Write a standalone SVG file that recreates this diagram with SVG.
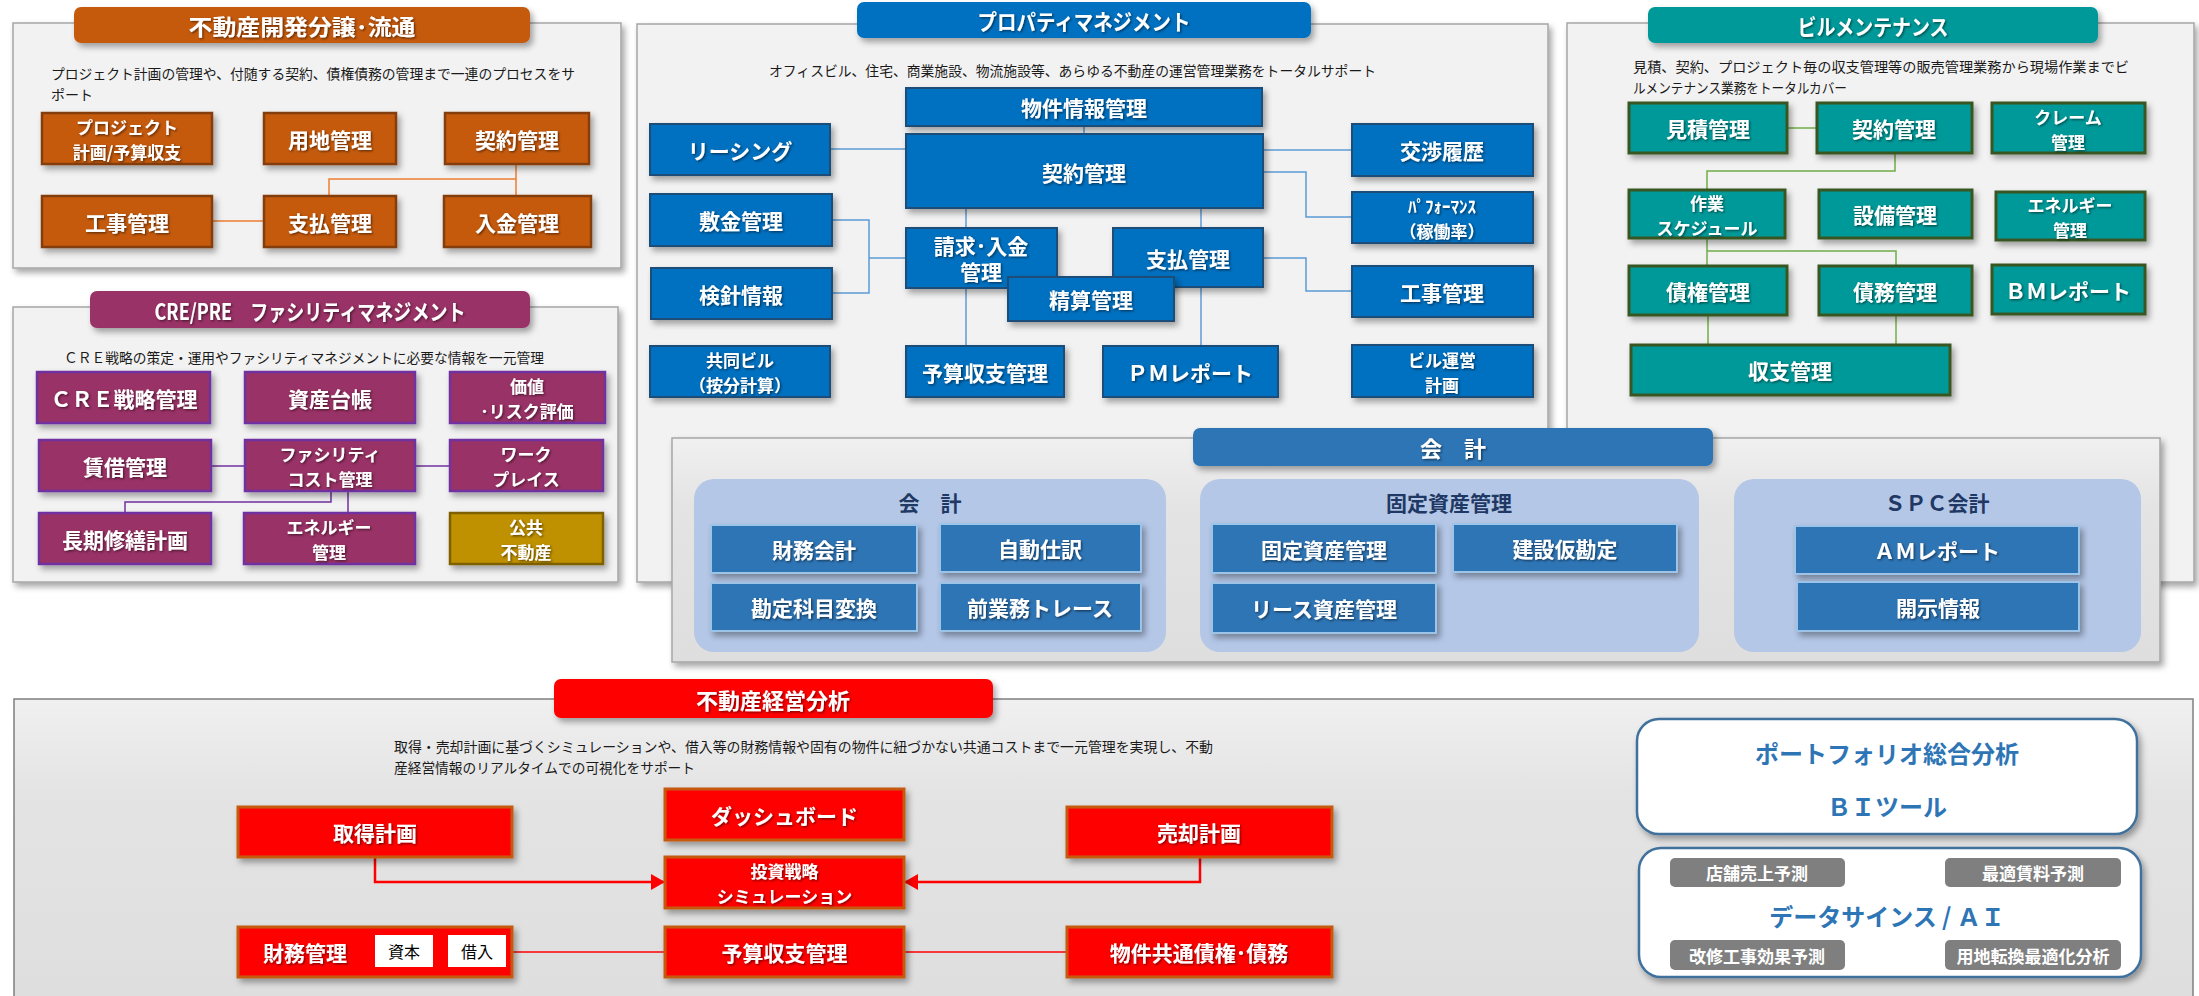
<svg xmlns="http://www.w3.org/2000/svg" width="2199" height="996" viewBox="0 0 2199 996">
<defs>
<filter id="sh" x="-10%" y="-10%" width="130%" height="150%"><feDropShadow dx="3" dy="4" stdDeviation="3" flood-color="#000" flood-opacity="0.35"/></filter>
<filter id="ts" x="-5%" y="-20%" width="115%" height="150%"><feDropShadow dx="1.2" dy="1.2" stdDeviation="0.8" flood-color="#000" flood-opacity="0.55"/></filter>
<linearGradient id="gbg" x1="0" y1="0" x2="0" y2="1"><stop offset="0" stop-color="#F0F0F0"/><stop offset="0.3" stop-color="#E4E4E4"/><stop offset="1" stop-color="#DEDEDE"/></linearGradient>
<marker id="arr" markerUnits="userSpaceOnUse" markerWidth="14" markerHeight="16" refX="14" refY="8" orient="auto"><path d="M0,0 L14,8 L0,16 z" fill="#FF0000"/></marker>
<style>
.panel{fill:#F2F2F2;stroke:#A6A6A6;stroke-width:1.5}
.nt{font-family:"Noto Sans CJK JP","Noto Sans",sans-serif;font-weight:700;fill:#fff;text-anchor:middle;dominant-baseline:central;font-size:21px}
.n2{font-size:17px}
.desc{font-family:"Noto Sans CJK JP","Noto Sans",sans-serif;font-size:14px;fill:#1a1a1a;dominant-baseline:central}
.tt{font-family:"Noto Sans CJK JP","Noto Sans",sans-serif;font-weight:700;fill:#fff;text-anchor:middle;dominant-baseline:central;font-size:22px}
.or{fill:#C55A11;stroke:#843C0C;stroke-width:2.5}
.pu{fill:#993366;stroke:#7030A0;stroke-width:2.5}
.go{fill:#BF9000;stroke:#7F6000;stroke-width:2.5}
.bl{fill:#0070C0;stroke:#1F4E79;stroke-width:2}
.te{fill:#009999;stroke:#375623;stroke-width:3}
.ac{fill:#2E75B6;stroke:#9DC3E6;stroke-width:2}
.rd{fill:#FF0000;stroke:#C55A11;stroke-width:3}
.sub{fill:#B4C7E7}
.subt{font-family:"Noto Sans CJK JP","Noto Sans",sans-serif;font-weight:700;fill:#1F3864;text-anchor:middle;dominant-baseline:central;font-size:21px}
.pill{fill:#7F7F7F}
.pt{font-family:"Noto Sans CJK JP","Noto Sans",sans-serif;font-weight:700;fill:#fff;text-anchor:middle;dominant-baseline:central;font-size:17px}
.bi{font-family:"Noto Sans CJK JP","Noto Sans",sans-serif;font-weight:700;fill:#2E75B6;text-anchor:middle;dominant-baseline:central;font-size:24px}
.wb{fill:#fff}
.wt{font-family:"Noto Sans CJK JP","Noto Sans",sans-serif;fill:#000;text-anchor:middle;dominant-baseline:central;font-size:16px}
</style>
</defs>

<!-- panels -->
<g id="panel-dev">
<rect class="panel" x="13" y="23" width="608" height="245" filter="url(#sh)"/>
<rect x="74" y="7" width="456" height="36" rx="7" fill="#C55A11" filter="url(#sh)"/>
<text class="tt" x="302" y="25" textLength="227" lengthAdjust="spacingAndGlyphs" filter="url(#ts)">不動産開発分譲･流通</text>
<text class="desc"><tspan x="51" y="73" textLength="524" lengthAdjust="spacingAndGlyphs">プロジェクト計画の管理や、付随する契約、債権債務の管理まで一連のプロセスをサ</tspan><tspan x="51" y="94">ポート</tspan></text>
</g>
<g id="panel-cre">
<rect class="panel" x="13" y="307" width="605" height="275" filter="url(#sh)"/>
<rect x="90" y="291" width="440" height="37" rx="7" fill="#993366" filter="url(#sh)"/>
<text class="tt" x="310" y="309.5" textLength="311" lengthAdjust="spacingAndGlyphs" filter="url(#ts)">CRE/PRE　ファシリティマネジメント</text>
<text class="desc" x="64" y="357" textLength="480" lengthAdjust="spacingAndGlyphs">ＣＲＥ戦略の策定・運用やファシリティマネジメントに必要な情報を一元管理</text>
</g>
<g id="panel-pm">
<rect class="panel" x="637" y="24" width="911" height="558" filter="url(#sh)"/>
<rect x="857" y="2" width="454" height="36" rx="7" fill="#0070C0" filter="url(#sh)"/>
<text class="tt" x="1084" y="20" textLength="213" lengthAdjust="spacingAndGlyphs" filter="url(#ts)">プロパティマネジメント</text>
<text class="desc" x="769" y="70" textLength="607" lengthAdjust="spacingAndGlyphs">オフィスビル、住宅、商業施設、物流施設等、あらゆる不動産の運営管理業務をトータルサポート</text>
</g>
<g id="panel-bm">
<rect class="panel" x="1567" y="23" width="627" height="559" filter="url(#sh)"/>
<rect x="1648" y="7" width="450" height="36" rx="7" fill="#009999" filter="url(#sh)"/>
<text class="tt" x="1873" y="25" textLength="151" lengthAdjust="spacingAndGlyphs" filter="url(#ts)">ビルメンテナンス</text>
<text class="desc"><tspan x="1633" y="66" textLength="496" lengthAdjust="spacingAndGlyphs">見積、契約、プロジェクト毎の収支管理等の販売管理業務から現場作業までビ</tspan><tspan x="1633" y="87" textLength="214" lengthAdjust="spacingAndGlyphs">ルメンテナンス業務をトータルカバー</tspan></text>
</g>
<g id="panel-acc">
<rect x="672" y="438" width="1488" height="224" fill="url(#gbg)" stroke="#A6A6A6" stroke-width="1.5" filter="url(#sh)"/>
<rect x="1193" y="428" width="520" height="38" rx="7" fill="#2E75B6" filter="url(#sh)"/>
<text class="tt" x="1453" y="447" font-size="23" filter="url(#ts)">会　計</text>
<rect class="sub" x="694" y="479" width="472" height="173" rx="20"/>
<text class="subt" x="930" y="502">会　計</text>
<rect class="sub" x="1200" y="479" width="499" height="173" rx="20"/>
<text class="subt" x="1449" y="502">固定資産管理</text>
<rect class="sub" x="1734" y="479" width="407" height="173" rx="20"/>
<text class="subt" x="1937" y="502">ＳＰＣ会計</text>
</g>
<g id="panel-analysis">
<rect x="14" y="699" width="2179" height="305" fill="url(#gbg)" stroke="#7F7F7F" stroke-width="1.5"/>
<rect x="554" y="679" width="439" height="39" rx="7" fill="#FF0000" filter="url(#sh)"/>
<text class="tt" x="773" y="698.5" font-size="24" filter="url(#ts)">不動産経営分析</text>
<text class="desc"><tspan x="394" y="746" textLength="819" lengthAdjust="spacingAndGlyphs">取得・売却計画に基づくシミュレーションや、借入等の財務情報や固有の物件に紐づかない共通コストまで一元管理を実現し、不動</tspan><tspan x="394" y="767" textLength="301" lengthAdjust="spacingAndGlyphs">産経営情報のリアルタイムでの可視化をサポート</tspan></text>
</g>

<!-- connectors -->
<g id="connectors" fill="none">
<g stroke="#ED7D31" stroke-width="1.5">
<path d="M212,221 H264"/><path d="M516,164 V196"/><path d="M516,179 H329 V196"/>
</g>
<g stroke="#7030A0" stroke-width="1.5">
<path d="M211,466 H245"/><path d="M415,466 H450"/><path d="M331,491 V502 H125 V513"/><path d="M348,491 V513"/>
</g>
<g stroke="#5B9BD5" stroke-width="1.5">
<path d="M1084,126 V134"/><path d="M830,149 H906"/><path d="M1263,150 H1352"/>
<path d="M1263,172 H1306 V217 H1352"/><path d="M832,220 H869 V293 H832"/><path d="M869,258 H906"/>
<path d="M966,208 V228"/><path d="M966,288 V346"/><path d="M1201,208 V228"/><path d="M1201,287 V346"/>
<path d="M1263,258 H1306 V291 H1352"/>
</g>
<g stroke="#70AD47" stroke-width="1.5">
<path d="M1787,128 H1817"/><path d="M1895,153 V171 H1707 V190"/><path d="M1707,238 V266"/>
<path d="M1707,251 H1896 V266"/><path d="M1708,315 V345"/><path d="M1896,315 V345"/>
</g>
<g stroke="#FF0000">
<path d="M375,857 V882 H665" stroke-width="2.5" marker-end="url(#arr)"/>
<path d="M1200,857 V882 H904" stroke-width="2.5" marker-end="url(#arr)"/>
<path d="M512,952 H665" stroke-width="1.5"/><path d="M904,952 H1067" stroke-width="1.5"/>
</g>
</g>

<!-- panel 1 nodes -->
<g id="dev-project"><rect class="or" x="42" y="113" width="170" height="51" filter="url(#sh)"/><text class="nt n2" filter="url(#ts)"><tspan x="127" y="126">プロジェクト</tspan><tspan x="127" y="151">計画/予算収支</tspan></text></g>
<g id="dev-land"><rect class="or" x="264" y="113" width="132" height="51" filter="url(#sh)"/><text class="nt" x="330" y="138.5" filter="url(#ts)">用地管理</text></g>
<g id="dev-contract"><rect class="or" x="445" y="113" width="144" height="51" filter="url(#sh)"/><text class="nt" x="517" y="138.5" filter="url(#ts)">契約管理</text></g>
<g id="dev-work"><rect class="or" x="42" y="196" width="170" height="51" filter="url(#sh)"/><text class="nt" x="127" y="221.5" filter="url(#ts)">工事管理</text></g>
<g id="dev-pay"><rect class="or" x="264" y="196" width="132" height="51" filter="url(#sh)"/><text class="nt" x="330" y="221.5" filter="url(#ts)">支払管理</text></g>
<g id="dev-receipt"><rect class="or" x="444" y="196" width="147" height="51" filter="url(#sh)"/><text class="nt" x="517" y="221.5" filter="url(#ts)">入金管理</text></g>

<!-- CRE nodes -->
<g id="cre-strategy"><rect class="pu" x="37" y="372" width="173" height="51" filter="url(#sh)"/><text class="nt" x="124" y="397.5" font-size="19" filter="url(#ts)">ＣＲＥ戦略管理</text></g>
<g id="cre-ledger"><rect class="pu" x="245" y="372" width="170" height="51" filter="url(#sh)"/><text class="nt" x="330" y="397.5" filter="url(#ts)">資産台帳</text></g>
<g id="cre-value"><rect class="pu" x="450" y="372" width="155" height="51" filter="url(#sh)"/><text class="nt n2" filter="url(#ts)"><tspan x="527" y="385">価値</tspan><tspan x="527" y="410">･リスク評価</tspan></text></g>
<g id="cre-lease"><rect class="pu" x="39" y="440" width="172" height="51" filter="url(#sh)"/><text class="nt" x="125" y="465.5" filter="url(#ts)">賃借管理</text></g>
<g id="cre-facility"><rect class="pu" x="245" y="440" width="170" height="51" filter="url(#sh)"/><text class="nt n2" filter="url(#ts)"><tspan x="330" y="453">ファシリティ</tspan><tspan x="330" y="478">コスト管理</tspan></text></g>
<g id="cre-workplace"><rect class="pu" x="450" y="440" width="153" height="51" filter="url(#sh)"/><text class="nt n2" filter="url(#ts)"><tspan x="526" y="453">ワーク</tspan><tspan x="526" y="478">プレイス</tspan></text></g>
<g id="cre-repair"><rect class="pu" x="39" y="513" width="172" height="51" filter="url(#sh)"/><text class="nt" x="125" y="538.5" filter="url(#ts)">長期修繕計画</text></g>
<g id="cre-energy"><rect class="pu" x="244" y="513" width="171" height="51" filter="url(#sh)"/><text class="nt n2" filter="url(#ts)"><tspan x="329" y="526">エネルギー</tspan><tspan x="329" y="551">管理</tspan></text></g>
<g id="cre-public"><rect class="go" x="450" y="513" width="153" height="51" filter="url(#sh)"/><text class="nt n2" filter="url(#ts)"><tspan x="526" y="526">公共</tspan><tspan x="526" y="551">不動産</tspan></text></g>

<!-- PM nodes -->
<g id="pm-property"><rect class="bl" x="906" y="88" width="356" height="38" filter="url(#sh)"/><text class="nt" x="1084" y="107" filter="url(#ts)">物件情報管理</text></g>
<g id="pm-contract"><rect class="bl" x="906" y="134" width="357" height="74" filter="url(#sh)"/><text class="nt" x="1084" y="172" filter="url(#ts)">契約管理</text></g>
<g id="pm-leasing"><rect class="bl" x="650" y="124" width="180" height="51" filter="url(#sh)"/><text class="nt" x="740" y="149.5" font-size="20" filter="url(#ts)">リーシング</text></g>
<g id="pm-deposit"><rect class="bl" x="650" y="194" width="182" height="52" filter="url(#sh)"/><text class="nt" x="741" y="220" font-size="20" filter="url(#ts)">敷金管理</text></g>
<g id="pm-meter"><rect class="bl" x="651" y="268" width="181" height="51" filter="url(#sh)"/><text class="nt" x="741" y="293.5" font-size="20" filter="url(#ts)">検針情報</text></g>
<g id="pm-shared"><rect class="bl" x="650" y="346" width="180" height="51" filter="url(#sh)"/><text class="nt n2" filter="url(#ts)"><tspan x="740" y="359">共同ビル</tspan><tspan x="740" y="384">（按分計算）</tspan></text></g>
<g id="pm-billing"><rect class="bl" x="906" y="228" width="151" height="60" filter="url(#sh)"/><text class="nt" font-size="18" filter="url(#ts)"><tspan x="981" y="245">請求･入金</tspan><tspan x="981" y="271">管理</tspan></text></g>
<g id="pm-payment"><rect class="bl" x="1113" y="228" width="150" height="59" filter="url(#sh)"/><text class="nt" x="1188" y="258" font-size="20" filter="url(#ts)">支払管理</text></g>
<g id="pm-settle"><rect class="bl" x="1008" y="277" width="166" height="44" filter="url(#sh)"/><text class="nt" x="1091" y="299" font-size="20" filter="url(#ts)">精算管理</text></g>
<g id="pm-budget"><rect class="bl" x="906" y="346" width="158" height="51" filter="url(#sh)"/><text class="nt" x="985" y="371.5" font-size="17" filter="url(#ts)">予算収支管理</text></g>
<g id="pm-report"><rect class="bl" x="1103" y="346" width="175" height="51" filter="url(#sh)"/><text class="nt" x="1190" y="371.5" font-size="19" filter="url(#ts)">ＰＭレポート</text></g>
<g id="pm-negotiation"><rect class="bl" x="1352" y="124" width="181" height="52" filter="url(#sh)"/><text class="nt" x="1442" y="150" font-size="20" filter="url(#ts)">交渉履歴</text></g>
<g id="pm-performance"><rect class="bl" x="1352" y="192" width="181" height="51" filter="url(#sh)"/><text class="nt n2" filter="url(#ts)"><tspan x="1442" y="205">ﾊﾟﾌｫｰﾏﾝｽ</tspan><tspan x="1442" y="230">（稼働率）</tspan></text></g>
<g id="pm-construction"><rect class="bl" x="1352" y="266" width="181" height="51" filter="url(#sh)"/><text class="nt" x="1442" y="291.5" font-size="20" filter="url(#ts)">工事管理</text></g>
<g id="pm-operation"><rect class="bl" x="1352" y="345" width="181" height="52" filter="url(#sh)"/><text class="nt n2" filter="url(#ts)"><tspan x="1442" y="358.5">ビル運営</tspan><tspan x="1442" y="383.5">計画</tspan></text></g>

<!-- BM nodes -->
<g id="bm-estimate"><rect class="te" x="1629" y="103" width="158" height="50" filter="url(#sh)"/><text class="nt" x="1708" y="128" filter="url(#ts)">見積管理</text></g>
<g id="bm-contract"><rect class="te" x="1817" y="103" width="155" height="50" filter="url(#sh)"/><text class="nt" x="1894" y="128" filter="url(#ts)">契約管理</text></g>
<g id="bm-claim"><rect class="te" x="1992" y="103" width="153" height="50" filter="url(#sh)"/><text class="nt n2" filter="url(#ts)"><tspan x="2068" y="115.5">クレーム</tspan><tspan x="2068" y="140.5">管理</tspan></text></g>
<g id="bm-schedule"><rect class="te" x="1629" y="190" width="156" height="48" filter="url(#sh)"/><text class="nt n2" filter="url(#ts)"><tspan x="1707" y="201.5">作業</tspan><tspan x="1707" y="226.5">スケジュール</tspan></text></g>
<g id="bm-equipment"><rect class="te" x="1819" y="190" width="153" height="48" filter="url(#sh)"/><text class="nt" x="1895" y="214" filter="url(#ts)">設備管理</text></g>
<g id="bm-energy"><rect class="te" x="1996" y="192" width="149" height="48" filter="url(#sh)"/><text class="nt n2" filter="url(#ts)"><tspan x="2070" y="203.5">エネルギー</tspan><tspan x="2070" y="228.5">管理</tspan></text></g>
<g id="bm-receivable"><rect class="te" x="1629" y="266" width="158" height="49" filter="url(#sh)"/><text class="nt" x="1708" y="290.5" filter="url(#ts)">債権管理</text></g>
<g id="bm-payable"><rect class="te" x="1819" y="266" width="153" height="49" filter="url(#sh)"/><text class="nt" x="1895" y="290.5" filter="url(#ts)">債務管理</text></g>
<g id="bm-report"><rect class="te" x="1992" y="265" width="153" height="49" filter="url(#sh)"/><text class="nt" x="2068" y="289.5" font-size="19" filter="url(#ts)">ＢＭレポート</text></g>
<g id="bm-balance"><rect class="te" x="1631" y="345" width="319" height="50" filter="url(#sh)"/><text class="nt" x="1790" y="370" filter="url(#ts)">収支管理</text></g>

<!-- accounting nodes -->
<g id="acc-financial"><rect class="ac" x="711" y="525" width="206" height="48" filter="url(#sh)"/><text class="nt" x="814" y="549" font-size="20" filter="url(#ts)">財務会計</text></g>
<g id="acc-auto"><rect class="ac" x="940" y="524" width="201" height="48" filter="url(#sh)"/><text class="nt" x="1040" y="548" font-size="20" filter="url(#ts)">自動仕訳</text></g>
<g id="acc-convert"><rect class="ac" x="711" y="583" width="206" height="48" filter="url(#sh)"/><text class="nt" x="814" y="607" font-size="19" filter="url(#ts)">勘定科目変換</text></g>
<g id="acc-trace"><rect class="ac" x="940" y="583" width="201" height="48" filter="url(#sh)"/><text class="nt" x="1040" y="607" font-size="20" filter="url(#ts)">前業務トレース</text></g>
<g id="acc-fixed"><rect class="ac" x="1212" y="524" width="224" height="49" filter="url(#sh)"/><text class="nt" x="1324" y="548.5" font-size="19" filter="url(#ts)">固定資産管理</text></g>
<g id="acc-cip"><rect class="ac" x="1453" y="524" width="224" height="48" filter="url(#sh)"/><text class="nt" x="1565" y="548" font-size="20" filter="url(#ts)">建設仮勘定</text></g>
<g id="acc-lease"><rect class="ac" x="1212" y="583" width="224" height="50" filter="url(#sh)"/><text class="nt" x="1324" y="608" font-size="19" filter="url(#ts)">リース資産管理</text></g>
<g id="acc-am"><rect class="ac" x="1795" y="526" width="284" height="48" filter="url(#sh)"/><text class="nt" x="1937" y="550" font-size="21" filter="url(#ts)">ＡＭレポート</text></g>
<g id="acc-disclosure"><rect class="ac" x="1797" y="582" width="282" height="49" filter="url(#sh)"/><text class="nt" x="1938" y="606.5" font-size="21" filter="url(#ts)">開示情報</text></g>

<!-- analysis nodes -->
<g id="an-acquire"><rect class="rd" x="238" y="807" width="274" height="50" filter="url(#sh)"/><text class="nt" x="375" y="832" font-size="23" filter="url(#ts)">取得計画</text></g>
<g id="an-dashboard"><rect class="rd" x="665" y="789" width="239" height="51" filter="url(#sh)"/><text class="nt" x="784.5" y="814.5" font-size="22" filter="url(#ts)">ダッシュボード</text></g>
<g id="an-sell"><rect class="rd" x="1067" y="807" width="265" height="50" filter="url(#sh)"/><text class="nt" x="1199" y="832" font-size="23" filter="url(#ts)">売却計画</text></g>
<g id="an-sim"><rect class="rd" x="665" y="857" width="239" height="51" filter="url(#sh)"/><text class="nt n2" filter="url(#ts)"><tspan x="784.5" y="869.5">投資戦略</tspan><tspan x="784.5" y="895">シミュレーション</tspan></text></g>
<g id="an-finance"><rect class="rd" x="238" y="927" width="274" height="50" filter="url(#sh)"/><text class="nt" x="305" y="952" font-size="22" filter="url(#ts)">財務管理</text>
<rect class="wb" x="375" y="935" width="58" height="32"/><text class="wt" x="404" y="951">資本</text>
<rect class="wb" x="448" y="935" width="58" height="32"/><text class="wt" x="477" y="951">借入</text></g>
<g id="an-budget"><rect class="rd" x="665" y="927" width="239" height="50" filter="url(#sh)"/><text class="nt" x="784.5" y="952" font-size="22" filter="url(#ts)">予算収支管理</text></g>
<g id="an-common"><rect class="rd" x="1067" y="927" width="265" height="50" filter="url(#sh)"/><text class="nt" x="1199" y="952" font-size="22" filter="url(#ts)">物件共通債権･債務</text></g>

<g id="an-bi"><rect x="1637" y="719" width="500" height="115" rx="22" fill="#fff" stroke="#41719C" stroke-width="2.5" filter="url(#sh)"/>
<text class="bi" x="1887" y="752">ポートフォリオ総合分析</text><text class="bi" x="1887" y="805">ＢＩツール</text></g>
<g id="an-ai"><rect x="1639" y="848" width="502" height="129" rx="22" fill="#fff" stroke="#41719C" stroke-width="2.5" filter="url(#sh)"/>
<rect class="pill" x="1670" y="858" width="175" height="29" rx="5"/><text class="pt" x="1757" y="872.5">店舗売上予測</text>
<rect class="pill" x="1945" y="858" width="176" height="29" rx="5"/><text class="pt" x="2033" y="872.5">最適賃料予測</text>
<text class="bi" x="1887" y="915" font-size="26">データサインス / ＡＩ</text>
<rect class="pill" x="1670" y="940" width="175" height="30" rx="5"/><text class="pt" x="1757" y="955">改修工事効果予測</text>
<rect class="pill" x="1945" y="940" width="176" height="30" rx="5"/><text class="pt" x="2033" y="955" font-size="16">用地転換最適化分析</text></g>
</svg>
